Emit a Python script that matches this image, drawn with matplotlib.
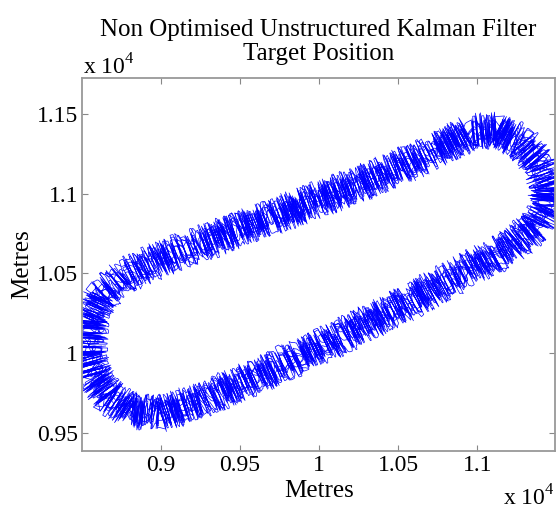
import matplotlib
matplotlib.use("Agg")
import matplotlib.pyplot as plt

# centre line of the estimated track (x 10^4 metres)
track_x = [0.8545, 0.8555, 0.8625, 0.8778, 0.9000, 0.9253, 0.9506, 0.9759,
           1.0013, 1.0266, 1.0519, 1.0772, 1.0962, 1.1120, 1.1278, 1.1392,
           1.1443, 1.1437, 1.1373, 1.1215, 1.1025, 1.0772, 1.0519, 1.0266,
           1.0013, 0.9759, 0.9506, 0.9253, 0.9000, 0.8810, 0.8675, 0.8580,
           0.8545, 0.8545]
track_y = [1.0044, 1.0201, 1.0357, 1.0483, 1.0590, 1.0684, 1.0780, 1.0875,
           1.0970, 1.1065, 1.1170, 1.1290, 1.1385, 1.1400, 1.1320, 1.1190,
           1.1047, 1.0922, 1.0796, 1.0671, 1.0564, 1.0433, 1.0295, 1.0169,
           1.0044, 0.9925, 0.9810, 0.9700, 0.9620, 0.9640, 0.9725, 0.9856,
           0.9981, 1.0044]

x_ticks = [0.9, 0.95, 1.0, 1.05, 1.1]
x_tick_labels = ["0.9", "0.95", "1", "1.05", "1.1"]
y_ticks = [0.95, 1.0, 1.05, 1.1, 1.15]
y_tick_labels = ["0.95", "1", "1.05", "1.1", "1.15"]

# one stroke per filter run, jitter comes from the sketch style
sketch_styles = [(17, 6, 120), (9, 4, 80), (14, 7, 150), (19, 5, 200),
                 (11, 3, 90), (16, 8, 130), (7, 5, 60), (13, 4, 170),
                 (18, 7, 110), (10, 6, 140)]

plt.rcParams["font.family"] = ["Liberation Serif", "DejaVu Serif"]
plt.rcParams["mathtext.fontset"] = "custom"
plt.rcParams["mathtext.rm"] = "Liberation Serif"
plt.rcParams["font.size"] = 17

fig = plt.figure(figsize=(5.57, 5.15), dpi=100)
ax = fig.add_axes([0.1478, 0.1243, 0.8486, 0.7242])

for sc, ln, rnd in sketch_styles:
    line, = ax.plot(track_x, track_y, color="blue", lw=0.5)
    line.set_sketch_params(float(sc), float(ln), float(rnd))

ax.set_xlim(0.8505, 1.1491)
ax.set_ylim(0.9385, 1.1726)
ax.set_xticks(x_ticks)
ax.set_xticklabels(x_tick_labels)
ax.set_yticks(y_ticks)
ax.set_yticklabels(y_tick_labels)
ax.tick_params(direction="in", length=4, width=0.8, color="#888888",
               top=True, right=True, labelsize=17, pad=3)
for sp in ax.spines.values():
    sp.set_color("#999999")
    sp.set_linewidth(1.3)

ax.set_xlabel("Metres", fontsize=18, labelpad=3)
ax.set_ylabel("Metres", fontsize=18, labelpad=3)
ax.set_title("Non Optimised Unstructured Kalman Filter\nTarget Position",
             fontsize=18, pad=13, linespacing=1.1)

fig.text(0.149, 0.855, r"x 10$^4$", fontsize=17, ha="left", va="baseline")
fig.text(0.903, 0.019, r"x 10$^4$", fontsize=17, ha="left", va="baseline")

fig.savefig("out.png", dpi=100)
